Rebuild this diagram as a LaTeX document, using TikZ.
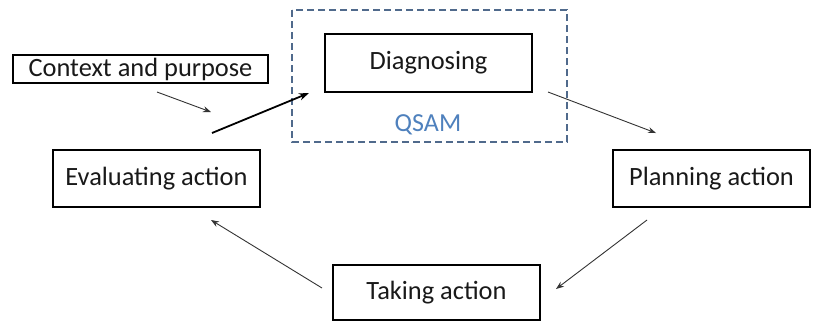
\documentclass[tikz,border=0pt]{standalone}
\usepackage{fontspec}
\setmainfont{Carlito}
\usetikzlibrary{arrows.meta}
\definecolor{frameblue}{HTML}{506A8C}
\definecolor{labelblue}{HTML}{4F81BD}
\begin{document}
\begin{tikzpicture}[x=0.5pt,y=-0.5pt,
  stage/.style={draw=black, line width=0.8pt, fill=white, inner sep=0pt,
    text=black!90, font=\fontsize{13.2}{16}\selectfont},
  flow/.style={-{Stealth[length=4pt,width=3pt]}, line width=0.45pt, draw=black!80},
  boldflow/.style={-{Stealth[length=5pt,width=3.6pt]}, line width=0.9pt, draw=black},
  groupbox/.style={draw=frameblue, dashed, dash pattern=on 3.5pt off 2pt, line width=1pt}]
\useasboundingbox (0,0) rectangle (813,322);

% dashed group around the diagnosing stage
\draw[groupbox] (292,10) rectangle (567,142);
\node[text=labelblue, font=\fontsize{13}{16}\selectfont] (qsam) at (428,125) {QSAM};

% stages of the cycle
\node[stage, minimum width=127.5pt, minimum height=14pt] (ctx) at (140.5,69) {Context and purpose};
\node[stage, minimum width=103.5pt, minimum height=29pt] (diag) at (428.5,63) {Diagnosing};
\node[stage, minimum width=98.5pt, minimum height=28.5pt] (plan) at (711.5,178.5) {Planning action};
\node[stage, minimum width=103.5pt, minimum height=27.5pt] (take) at (436.5,292.5) {Taking action};
\node[stage, minimum width=103.5pt, minimum height=28.5pt] (eval) at (156.5,178.5) {Evaluating action};

% free arrow ends placed near the boxes
\coordinate (ctxOut) at (157,92);
\coordinate (ctxIn) at (211,112);
\coordinate (evalOut) at (212,133);
\coordinate (diagIn) at (309,93);
\coordinate (diagOut) at (548,92);
\coordinate (planIn) at (656,133);
\coordinate (planOut) at (647,220);
\coordinate (takeIn) at (556,289);
\coordinate (takeOut) at (322,288);
\coordinate (evalIn) at (211,220);

\draw[flow] (ctxOut) -- (ctxIn);
\draw[boldflow] (evalOut) -- (diagIn);
\draw[flow] (diagOut) -- (planIn);
\draw[flow] (planOut) -- (takeIn);
\draw[flow] (takeOut) -- (evalIn);
\end{tikzpicture}
\end{document}
